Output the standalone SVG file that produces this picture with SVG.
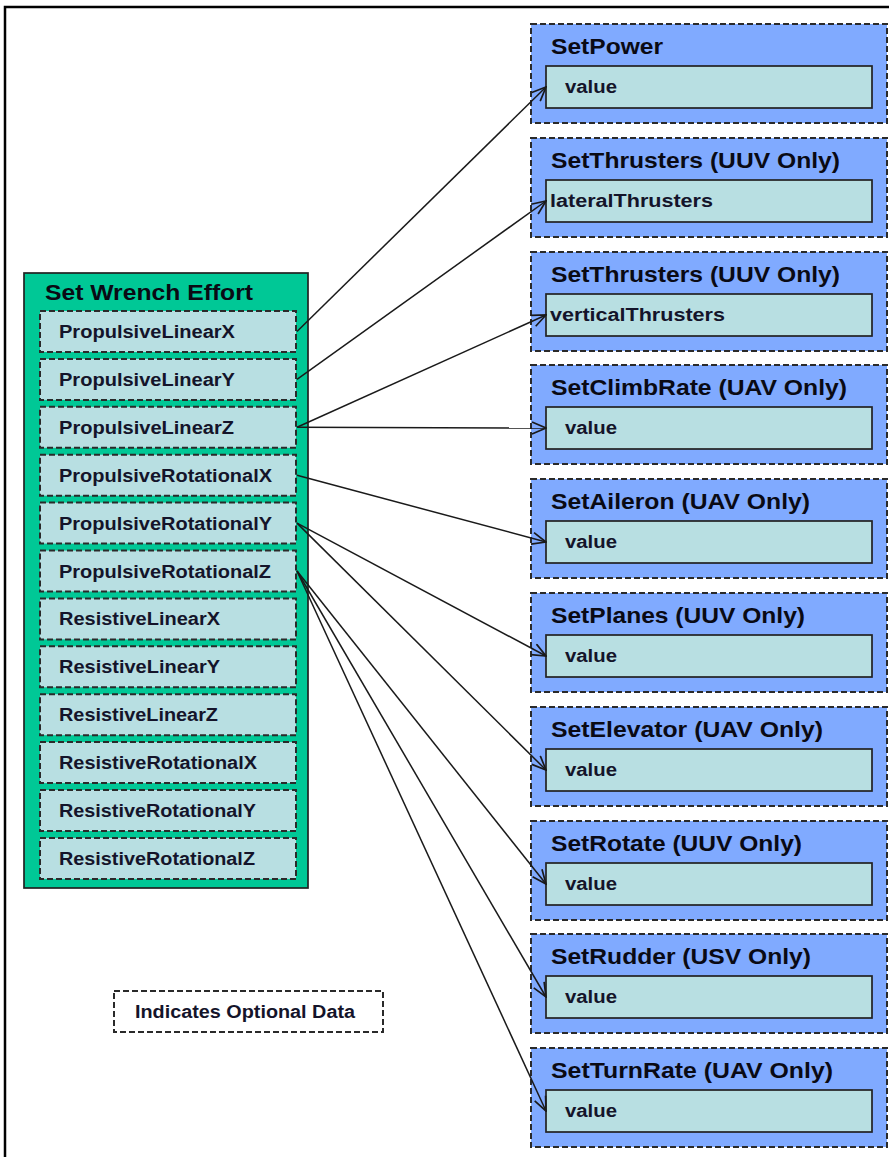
<svg xmlns="http://www.w3.org/2000/svg" width="889" height="1157" viewBox="0 0 889 1157">
  <defs>
    <marker id="arrow" viewBox="0 0 16 14" refX="15" refY="7" markerWidth="16" markerHeight="14" markerUnits="userSpaceOnUse" orient="auto">
      <path d="M1,1 L15,7 L1,13" fill="none" stroke="#1a1a1a" stroke-width="1.7"/>
    </marker>
    <style>
      .frame { fill: none; stroke: #000; stroke-width: 2.5; }
      .cmd { fill: #80aaff; stroke: #2a2a2a; stroke-width: 2; stroke-dasharray: 6 3; }
      .val { fill: #b8dfe2; stroke: #222; stroke-width: 1.7; }
      .wrench { fill: #00c896; stroke: #222; stroke-width: 1.7; }
      .field { fill: #b8dfe2; stroke: #2a2a2a; stroke-width: 2; stroke-dasharray: 6 3; }
      .legend { fill: #fff; stroke: #2a2a2a; stroke-width: 2; stroke-dasharray: 6 3; }
      .title { font-family: "Liberation Sans", Arial, sans-serif; font-weight: bold; font-size: 22px; fill: #0a0a14; }
      .label { font-family: "Liberation Sans", Arial, sans-serif; font-weight: bold; font-size: 17.5px; fill: #14142a; }
      .link { fill: none; stroke: #1a1a1a; stroke-width: 1.5; marker-end: url(#arrow); }
    </style>
  </defs>

  <rect width="889" height="1157" fill="#fff"/>
  <path class="frame" d="M5,1157 V7 H889"/>

  <!-- Set Wrench Effort message and its fields -->
  <g id="set-wrench-effort">
    <rect class="wrench" x="24" y="273" width="284" height="615"/>
    <text class="title" x="45" y="300" font-size="22.5" textLength="208" lengthAdjust="spacingAndGlyphs">Set Wrench Effort</text>
  </g>
  <g id="propulsive-linear-x">
    <rect class="field" x="40" y="311" width="256" height="41"/>
    <text class="label" x="59" y="338" textLength="176" lengthAdjust="spacingAndGlyphs">PropulsiveLinearX</text>
  </g>
  <g id="propulsive-linear-y">
    <rect class="field" x="40" y="358.9" width="256" height="41"/>
    <text class="label" x="59" y="385.9" textLength="176" lengthAdjust="spacingAndGlyphs">PropulsiveLinearY</text>
  </g>
  <g id="propulsive-linear-z">
    <rect class="field" x="40" y="406.8" width="256" height="41"/>
    <text class="label" x="59" y="433.8" textLength="175" lengthAdjust="spacingAndGlyphs">PropulsiveLinearZ</text>
  </g>
  <g id="propulsive-rotational-x">
    <rect class="field" x="40" y="454.7" width="256" height="41"/>
    <text class="label" x="59" y="481.7" textLength="213" lengthAdjust="spacingAndGlyphs">PropulsiveRotationalX</text>
  </g>
  <g id="propulsive-rotational-y">
    <rect class="field" x="40" y="502.6" width="256" height="41"/>
    <text class="label" x="59" y="529.6" textLength="213" lengthAdjust="spacingAndGlyphs">PropulsiveRotationalY</text>
  </g>
  <g id="propulsive-rotational-z">
    <rect class="field" x="40" y="550.5" width="256" height="41"/>
    <text class="label" x="59" y="577.5" textLength="212" lengthAdjust="spacingAndGlyphs">PropulsiveRotationalZ</text>
  </g>
  <g id="resistive-linear-x">
    <rect class="field" x="40" y="598.4" width="256" height="41"/>
    <text class="label" x="59" y="625.4" textLength="161" lengthAdjust="spacingAndGlyphs">ResistiveLinearX</text>
  </g>
  <g id="resistive-linear-y">
    <rect class="field" x="40" y="646.3" width="256" height="41"/>
    <text class="label" x="59" y="673.3" textLength="161" lengthAdjust="spacingAndGlyphs">ResistiveLinearY</text>
  </g>
  <g id="resistive-linear-z">
    <rect class="field" x="40" y="694.2" width="256" height="41"/>
    <text class="label" x="59" y="721.2" textLength="159" lengthAdjust="spacingAndGlyphs">ResistiveLinearZ</text>
  </g>
  <g id="resistive-rotational-x">
    <rect class="field" x="40" y="742.1" width="256" height="41"/>
    <text class="label" x="59" y="769.1" textLength="198" lengthAdjust="spacingAndGlyphs">ResistiveRotationalX</text>
  </g>
  <g id="resistive-rotational-y">
    <rect class="field" x="40" y="790" width="256" height="41"/>
    <text class="label" x="59" y="817" textLength="197" lengthAdjust="spacingAndGlyphs">ResistiveRotationalY</text>
  </g>
  <g id="resistive-rotational-z">
    <rect class="field" x="40" y="837.9" width="256" height="41"/>
    <text class="label" x="59" y="864.9" textLength="196" lengthAdjust="spacingAndGlyphs">ResistiveRotationalZ</text>
  </g>

  <!-- Legend -->
  <g id="legend">
    <rect class="legend" x="114" y="991" width="269" height="41"/>
    <text class="label" x="135" y="1018" textLength="220" lengthAdjust="spacingAndGlyphs">Indicates Optional Data</text>
  </g>

  <!-- Target commands -->
  <g id="set-power">
    <rect class="cmd" x="531" y="24" width="356" height="99"/>
    <text class="title" x="551" y="54" textLength="112" lengthAdjust="spacingAndGlyphs">SetPower</text>
    <rect class="val" x="546" y="66" width="326" height="42"/>
    <text class="label" x="565" y="93" textLength="52" lengthAdjust="spacingAndGlyphs">value</text>
  </g>
  <g id="set-thrusters-lateral">
    <rect class="cmd" x="531" y="138" width="356" height="99"/>
    <text class="title" x="551" y="168" textLength="289" lengthAdjust="spacingAndGlyphs">SetThrusters (UUV Only)</text>
    <rect class="val" x="546" y="180" width="326" height="42"/>
    <text class="label" x="550" y="207" textLength="163" lengthAdjust="spacingAndGlyphs">lateralThrusters</text>
  </g>
  <g id="set-thrusters-vertical">
    <rect class="cmd" x="531" y="252" width="356" height="99"/>
    <text class="title" x="551" y="282" textLength="289" lengthAdjust="spacingAndGlyphs">SetThrusters (UUV Only)</text>
    <rect class="val" x="546" y="294" width="326" height="42"/>
    <text class="label" x="550" y="321" textLength="175" lengthAdjust="spacingAndGlyphs">verticalThrusters</text>
  </g>
  <g id="set-climb-rate">
    <rect class="cmd" x="531" y="365" width="356" height="99"/>
    <text class="title" x="551" y="395" textLength="296" lengthAdjust="spacingAndGlyphs">SetClimbRate (UAV Only)</text>
    <rect class="val" x="546" y="407" width="326" height="42"/>
    <text class="label" x="565" y="434" textLength="52" lengthAdjust="spacingAndGlyphs">value</text>
  </g>
  <g id="set-aileron">
    <rect class="cmd" x="531" y="479" width="356" height="99"/>
    <text class="title" x="551" y="509" textLength="259" lengthAdjust="spacingAndGlyphs">SetAileron (UAV Only)</text>
    <rect class="val" x="546" y="521" width="326" height="42"/>
    <text class="label" x="565" y="548" textLength="52" lengthAdjust="spacingAndGlyphs">value</text>
  </g>
  <g id="set-planes">
    <rect class="cmd" x="531" y="593" width="356" height="99"/>
    <text class="title" x="551" y="623" textLength="254" lengthAdjust="spacingAndGlyphs">SetPlanes (UUV Only)</text>
    <rect class="val" x="546" y="635" width="326" height="42"/>
    <text class="label" x="565" y="662" textLength="52" lengthAdjust="spacingAndGlyphs">value</text>
  </g>
  <g id="set-elevator">
    <rect class="cmd" x="531" y="707" width="356" height="99"/>
    <text class="title" x="551" y="737" textLength="272" lengthAdjust="spacingAndGlyphs">SetElevator (UAV Only)</text>
    <rect class="val" x="546" y="749" width="326" height="42"/>
    <text class="label" x="565" y="776" textLength="52" lengthAdjust="spacingAndGlyphs">value</text>
  </g>
  <g id="set-rotate">
    <rect class="cmd" x="531" y="821" width="356" height="99"/>
    <text class="title" x="551" y="851" textLength="251" lengthAdjust="spacingAndGlyphs">SetRotate (UUV Only)</text>
    <rect class="val" x="546" y="863" width="326" height="42"/>
    <text class="label" x="565" y="890" textLength="52" lengthAdjust="spacingAndGlyphs">value</text>
  </g>
  <g id="set-rudder">
    <rect class="cmd" x="531" y="934" width="356" height="99"/>
    <text class="title" x="551" y="964" textLength="260" lengthAdjust="spacingAndGlyphs">SetRudder (USV Only)</text>
    <rect class="val" x="546" y="976" width="326" height="42"/>
    <text class="label" x="565" y="1003" textLength="52" lengthAdjust="spacingAndGlyphs">value</text>
  </g>
  <g id="set-turn-rate">
    <rect class="cmd" x="531" y="1048" width="356" height="99"/>
    <text class="title" x="551" y="1078" textLength="282" lengthAdjust="spacingAndGlyphs">SetTurnRate (UAV Only)</text>
    <rect class="val" x="546" y="1090" width="326" height="42"/>
    <text class="label" x="565" y="1117" textLength="52" lengthAdjust="spacingAndGlyphs">value</text>
  </g>

  <!-- Field-to-command mappings -->
  <g id="connectors">
    <line class="link" x1="297" y1="331.5" x2="546" y2="87"/>
    <line class="link" x1="297" y1="379.4" x2="546" y2="201"/>
    <line class="link" x1="297" y1="427.3" x2="546" y2="315"/>
    <line class="link" x1="297" y1="427.3" x2="546" y2="428"/>
    <line class="link" x1="297" y1="475.2" x2="546" y2="542"/>
    <line class="link" x1="297" y1="523.1" x2="546" y2="656"/>
    <line class="link" x1="297" y1="523.1" x2="546" y2="770"/>
    <line class="link" x1="297" y1="571" x2="546" y2="884"/>
    <line class="link" x1="297" y1="571" x2="546" y2="997"/>
    <line class="link" x1="297" y1="571" x2="546" y2="1111"/>
  </g>
</svg>
